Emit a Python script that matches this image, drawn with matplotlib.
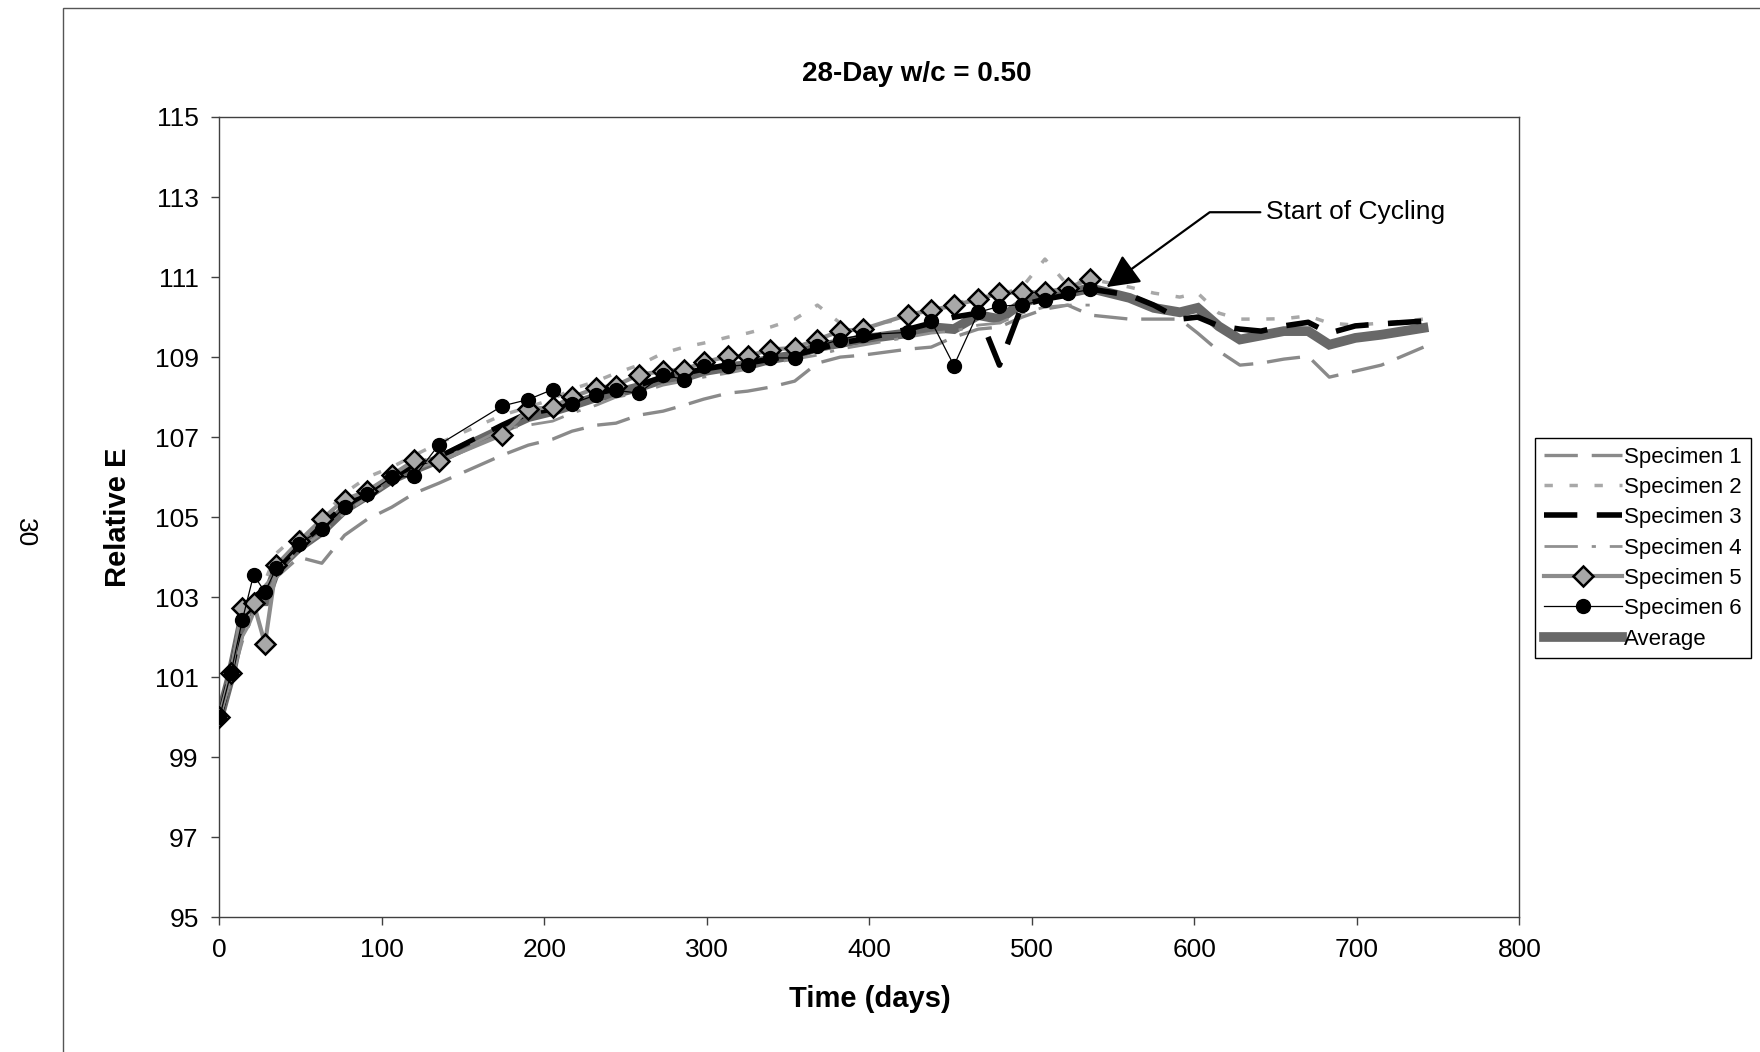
import matplotlib
matplotlib.use("Agg")
import matplotlib.pyplot as plt
from matplotlib.patches import Rectangle

plt.rcParams['font.family'] = ['Liberation Sans', 'DejaVu Sans']
plt.rcParams['lines.scale_dashes'] = False

# measurement times (days) before cycling, and during cycling
days_pre = [0, 7, 14, 21, 28, 35, 49, 63, 77, 91, 106, 120, 135, 174, 190, 205, 217,
            232, 244, 258, 273, 286, 298, 313, 325, 339, 354, 368, 382, 396, 424, 438,
            452, 467, 480, 494, 508, 522, 536]
days_post = [560, 575, 591, 602, 615, 628, 641, 655, 670, 683, 699, 715, 741]

spec1 = [100.0, 100.9, 101.9, 102.6, 103.0, 103.5, 104.0, 103.85, 104.55, 104.95, 105.25,
         105.6, 105.85, 106.55, 106.8, 106.95, 107.15, 107.3, 107.35, 107.55, 107.65, 107.8,
         107.95, 108.1, 108.15, 108.25, 108.4, 108.85, 109.0, 109.05, 109.2, 109.25, 109.5,
         109.7, 109.75, 110.0, 110.2, 110.3, 110.05]
spec1_post = [109.95, 109.95, 109.95, 109.6, 109.15, 108.8, 108.85, 108.95, 109.02, 108.5,
              108.65, 108.8, 109.25]

spec2 = [100.0, 101.0, 102.2, 102.9, 103.4, 104.1, 104.6, 105.0, 105.6, 106.0, 106.25,
         106.55, 106.85, 107.55, 107.75, 107.95, 108.2, 108.4, 108.6, 108.8, 109.1, 109.25,
         109.35, 109.5, 109.6, 109.75, 109.95, 110.3, 109.85, 109.8, 109.95, 110.15, 110.35,
         110.45, 110.55, 110.75, 111.45, 110.8, 110.95]
spec2_post = [110.75, 110.6, 110.5, 110.6, 110.1, 109.95, 109.95, 109.96, 110.03, 109.85,
              109.8, 109.85, 109.95]

spec3 = [100.0, 101.1, 102.5, 103.0, 103.2, 103.7, 104.3, 104.8, 105.3, 105.6, 106.0,
         106.3, 106.5, 107.3, 107.6, 107.7, 107.9, 108.1, 108.2, 108.3, 108.5, 108.6,
         108.7, 108.8, 108.85, 108.95, 109.05, 109.2, 109.35, 109.45, 109.7, 109.85, 110.0,
         110.1, 108.8, 110.3, 110.45, 110.55, 110.7]
spec3_post = [110.55, 110.3, 109.95, 110.0, 109.78, 109.7, 109.65, 109.78, 109.87, 109.6,
              109.78, 109.83, 109.9]

spec4 = [100.0, 100.9, 102.0, 102.5, 103.3, 103.6, 104.2, 104.6, 105.1, 105.5, 105.9,
         106.2, 106.4, 107.2, 107.3, 107.4, 107.6, 107.8, 108.0, 108.1, 108.3, 108.4,
         108.5, 108.6, 108.7, 108.85, 108.95, 109.05, 109.2, 109.3, 109.5, 109.6, 109.65,
         109.8, 109.85, 110.1, 110.25, 110.3, 110.3]

spec5 = [100.0, 101.1, 102.73, 102.85, 101.84, 103.8, 104.4, 104.95, 105.44, 105.66, 106.05,
         106.42, 106.4, 107.06, 107.7, 107.75, 108.0, 108.23, 108.29, 108.56, 108.65, 108.69,
         108.87, 109.02, 109.02, 109.19, 109.23, 109.44, 109.65, 109.7, 110.06, 110.17,
         110.29, 110.45, 110.6, 110.62, 110.62, 110.73, 110.95]

spec6 = [100.0, 101.1, 102.42, 103.56, 103.13, 103.73, 104.34, 104.7, 105.25, 105.58, 106.0,
         106.02, 106.81, 107.78, 107.94, 108.19, 107.84, 108.06, 108.17, 108.1, 108.56,
         108.44, 108.77, 108.77, 108.81, 108.98, 108.98, 109.27, 109.44, 109.56, 109.62,
         109.9, 108.79, 110.12, 110.27, 110.31, 110.42, 110.59, 110.69]

average = [100.0, 101.05, 102.4, 102.9, 102.9, 103.7, 104.25, 104.65, 105.2, 105.55, 105.95,
           106.2, 106.45, 107.2, 107.5, 107.65, 107.8, 108.0, 108.1, 108.25, 108.45, 108.5,
           108.65, 108.75, 108.8, 108.95, 109.05, 109.25, 109.35, 109.45, 109.6, 109.75,
           109.7, 110.05, 109.95, 110.35, 110.55, 110.6, 110.72]
average_post = [110.48, 110.23, 110.12, 110.23, 109.77, 109.44, 109.54, 109.65, 109.65,
                109.31, 109.48, 109.56, 109.73]

days_all = days_pre + days_post

fig = plt.figure(figsize=(17.6, 10.52), dpi=100)
ax = fig.add_axes([0.1247, 0.1279, 0.7386, 0.7609])

ax.plot(days_all, spec1 + spec1_post, color='#8a8a8a', lw=2.4, dashes=(24, 10),
        label='Specimen 1', zorder=2.5)
ax.plot(days_all, spec2 + spec2_post, color='#a8a8a8', lw=2.5, dashes=(6, 12),
        label='Specimen 2', zorder=2.5)
ax.plot(days_all, spec3 + spec3_post, color='black', lw=4, dashes=(24, 14),
        label='Specimen 3', zorder=2.5)
ax.plot(days_pre, spec4, color='#909090', lw=2, dashes=(24, 10, 3, 10),
        label='Specimen 4', zorder=2.5)
ax.plot(days_pre, spec5, color='#8c8c8c', lw=3, marker='D', markersize=10,
        markerfacecolor='#a8a8a8', markeredgecolor='black', markeredgewidth=1.8,
        label='Specimen 5', zorder=3)
ax.plot(days_pre, spec6, color='black', lw=0.9, marker='o', markersize=10,
        markerfacecolor='black', markeredgecolor='black', label='Specimen 6', zorder=3)
ax.plot(days_all, average + average_post, color='#686868', lw=7, label='Average',
        zorder=2, solid_joinstyle='miter')

ax.set_xlim(0, 800)
ax.set_ylim(95, 115)
ax.set_xticks(range(0, 801, 100))
ax.set_yticks(range(95, 116, 2))
ax.tick_params(direction='out', length=6, width=1, pad=9, labelsize=19, color='#404040')
for s in ax.spines.values():
    s.set_color('#404040')
    s.set_linewidth(1)

ax.set_xlabel('Time (days)', fontsize=21, fontweight='bold', labelpad=16)
ax.set_ylabel('Relative E', fontsize=21, fontweight='bold', labelpad=16)
fig.text(0.521, 0.9296, '28-Day w/c = 0.50', fontsize=20, fontweight='bold',
         ha='center', va='center')

ax.annotate('Start of Cycling', xy=(546, 110.75), xytext=(644, 112.62),
            ha='left', va='center', fontsize=19,
            arrowprops=dict(arrowstyle='-|>,head_length=1.05,head_width=0.55',
                            color='black', lw=1.6,
                            connectionstyle='angle,angleA=0,angleB=36,rad=0',
                            shrinkA=2, shrinkB=0))

leg = fig.legend(loc='upper left', bbox_to_anchor=(0.8724, 0.584), fontsize=16,
                 handlelength=3.5, handletextpad=0.1, borderpad=0.4,
                 labelspacing=0.42, borderaxespad=0, fancybox=False, framealpha=1)
leg.get_frame().set_edgecolor('black')
leg.get_frame().set_linewidth(1)

# chart area border and page number from the scanned page
fig.patches.append(Rectangle((63 / 1760, -0.05), 1.2, 1.05 - 8.4 / 1052,
                             transform=fig.transFigure, fill=False,
                             edgecolor='#555555', lw=1))
fig.text(25 / 1760, 1 - 533 / 1052, '30', fontsize=19, rotation=-90,
         ha='center', va='center')

fig.savefig('out.png', dpi=100)
